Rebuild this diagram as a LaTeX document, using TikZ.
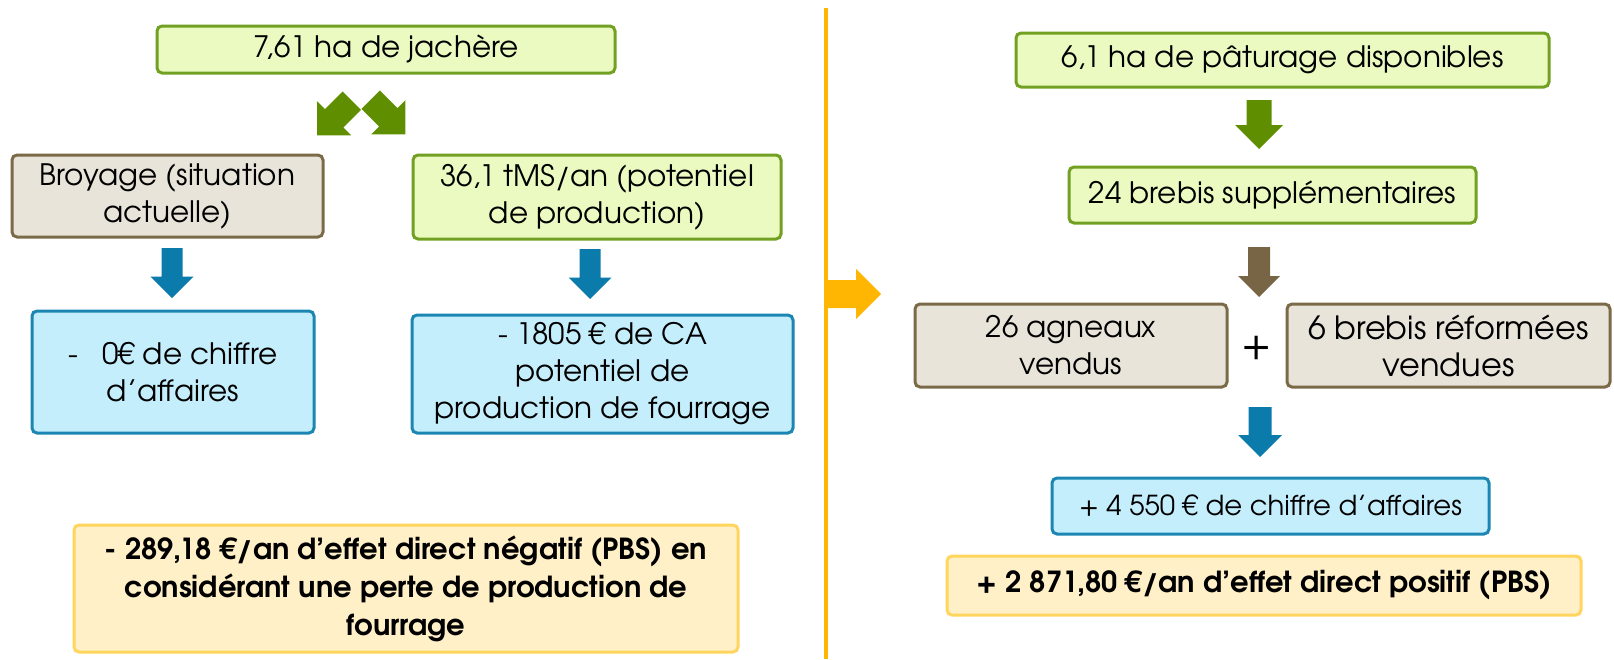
\documentclass[tikz,border=0pt]{standalone}
\usepackage{fontspec}
\setmainfont{texgyreadventor-regular.otf}[BoldFont=texgyreadventor-bold.otf]
\newfontfamily\bfnarrow{texgyreadventor-bold.otf}
\definecolor{gfill}{HTML}{EAFAC0}
\definecolor{gline}{HTML}{72A022}
\definecolor{garrow}{HTML}{5F8F00}
\definecolor{bfill}{HTML}{E8E4DA}
\definecolor{bline}{HTML}{7B6A48}
\definecolor{barrow}{HTML}{776545}
\definecolor{cfill}{HTML}{C5EEFC}
\definecolor{cline}{HTML}{1C86B2}
\definecolor{carrow}{HTML}{0A7BAB}
\definecolor{yfill}{HTML}{FFF0C8}
\definecolor{yline}{HTML}{FFD55E}
\definecolor{orng}{HTML}{FFB602}
% block arrow: x, y, rotation, colour, length, shaft width, head width
\newcommand\blkarrow[7]{%
  \begin{scope}[shift={(#1,#2)},rotate=#3]
    \fill[#4] ({-#5/2},{-#6/2}) -- ({#5/2-#7/2},{-#6/2}) -- ({#5/2-#7/2},{-#7/2})
      -- ({#5/2},0) -- ({#5/2-#7/2},{#7/2}) -- ({#5/2-#7/2},{#6/2})
      -- ({-#5/2},{#6/2}) -- cycle;
  \end{scope}}
\begin{document}
\begin{tikzpicture}[x=1pt,y=-1pt,
  box/.style={rounded corners=5pt,line width=3pt,align=center,inner sep=0pt,
    font=\fontsize{29.5}{37}\selectfont},
  gbox/.style={box,fill=gfill,draw=gline},
  bbox/.style={box,fill=bfill,draw=bline},
  cbox/.style={box,fill=cfill,draw=cline},
  ybox/.style={box,fill=yfill,draw=yline,font=\bfnarrow\fontsize{29}{38}\selectfont}]
\useasboundingbox (0,0) rectangle (1614,659);
% left half
\node[gbox,minimum width=458pt,minimum height=47pt] (a) at (386,49.5) {7,61 ha de jachère};
\node[bbox,minimum width=311pt,minimum height=82pt] (b) at (167.5,196) {Broyage (situation\\actuelle)};
\node[gbox,minimum width=368pt,minimum height=84pt] (c) at (597,197) {36,1 tMS/an (potentiel\\de production)};
\node[cbox,minimum width=282pt,minimum height=122pt] (e) at (173,372) {-\hspace{24pt}0€ de chiffre\\d’affaires};
\node[cbox,minimum width=381pt,minimum height=118pt] (d) at (602.5,374) {- 1805 € de CA\\potentiel de\\production de fourrage};
\node[ybox,minimum width=664pt,minimum height=127pt] (f) at (406,588.5) {- 289,18 €/an d’effet direct négatif (PBS) en\\considérant une perte de production de\\fourrage};
\blkarrow{334.5}{118}{-135}{garrow}{49}{26}{48}
\blkarrow{388}{117}{-45}{garrow}{49}{26}{48}
\blkarrow{172}{273}{-90}{carrow}{50}{21}{43}
\blkarrow{590}{274}{-90}{carrow}{50}{21}{43}
% separator
\draw[orng,line width=4pt] (826,8) -- (826,659);
\blkarrow{854}{294}{0}{orng}{54}{28}{50}
% right half
\node[gbox,minimum width=533pt,minimum height=54pt] (g) at (1282.5,60) {6,1 ha de pâturage disponibles};
\node[gbox,minimum width=407pt,minimum height=56pt] (h) at (1272.5,195) {24 brebis supplémentaires};
\node[bbox,minimum width=312pt,minimum height=83pt] (i) at (1071,345.5) {26 agneaux\\vendus};
\node[bbox,minimum width=323pt,minimum height=83pt,font=\fontsize{32}{37}\selectfont] (j) at (1448.5,345.5) {6 brebis réformées\\vendues};
\node[font=\fontsize{42}{42}\selectfont,inner sep=0pt] (plus) at (1257,348) {+};
\node[cbox,minimum width=437pt,minimum height=56pt,font=\fontsize{27.5}{36}\selectfont] (k) at (1270.5,506) {+ 4 550 € de chiffre d’affaires};
\node[ybox,minimum width=634pt,minimum height=59pt] (l) at (1264,585.5) {+ 2 871,80 €/an d’effet direct positif (PBS)};
\blkarrow{1259}{124.5}{-90}{garrow}{49}{25}{48}
\blkarrow{1259}{272}{-90}{barrow}{50}{22}{42}
\blkarrow{1260}{432}{-90}{carrow}{50}{23}{44}
\end{tikzpicture}
\end{document}
